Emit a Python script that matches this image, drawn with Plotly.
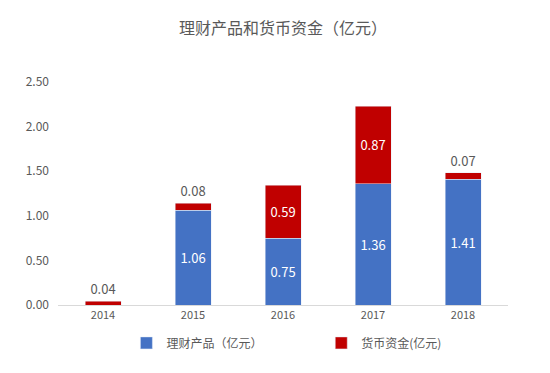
import plotly.graph_objects as go

years = ["2014", "2015", "2016", "2017", "2018"]
wealth = [0.0, 1.06, 0.75, 1.36, 1.41]
cash = [0.04, 0.08, 0.59, 0.87, 0.07]
y_ticks = [0.0, 0.5, 1.0, 1.5, 2.0, 2.5]

font = "Noto Sans CJK SC, Noto Sans, sans-serif"
blue = "#4472C4"
red = "#C00000"
gray = "#595959"

wealth_text = ["" if v == 0 else f"{v:.2f}" for v in wealth]
cash_text = [f"{v:.2f}" for v in cash]
cash_pos = ["inside" if v > 0.3 else "outside" for v in cash]

fig = go.Figure()
fig.add_trace(go.Bar(
    x=years, y=wealth, name="理财产品（亿元）", marker_color=blue, legend="legend",
    text=wealth_text, textposition="inside", insidetextanchor="middle",
    textfont=dict(color="white", size=13, family=font), cliponaxis=False,
))
fig.add_trace(go.Bar(
    x=years, y=cash, name="货币资金(亿元)", marker_color=red, legend="legend2",
    text=cash_text, textposition=cash_pos, insidetextanchor="middle",
    insidetextfont=dict(color="white", size=13, family=font),
    outsidetextfont=dict(color=gray, size=13, family=font), cliponaxis=False,
))

leg_common = dict(orientation="h", xanchor="left", y=-0.17, yanchor="middle",
                  font=dict(size=12, color=gray), bgcolor="rgba(0,0,0,0)")

fig.update_layout(
    barmode="stack",
    bargap=0.6,
    width=550, height=373,
    margin=dict(l=50, r=50, t=74, b=76, autoexpand=False),
    paper_bgcolor="white", plot_bgcolor="white",
    title=dict(text="理财产品和货币资金（亿元）", x=0.5, xanchor="center", y=0.945, yanchor="middle",
               font=dict(family=font, size=16, color=gray)),
    font=dict(family=font, color=gray, size=11),
    showlegend=True,
    legend=dict(x=0.152, **leg_common),
    legend2=dict(x=0.585, **leg_common),
    uniformtext=dict(minsize=8, mode="show"),
)
fig.update_xaxes(showline=True, linecolor="#D9D9D9", linewidth=1, ticks="", showgrid=False,
                 tickfont=dict(size=11, color=gray))
fig.update_yaxes(range=[0, 2.5], tickvals=y_ticks, ticktext=[f"{v:.2f}" for v in y_ticks],
                 showgrid=False, zeroline=False, showline=False, ticks="",
                 tickfont=dict(size=12, color=gray), ticklabelstandoff=8)

fig.write_html("out.html")
